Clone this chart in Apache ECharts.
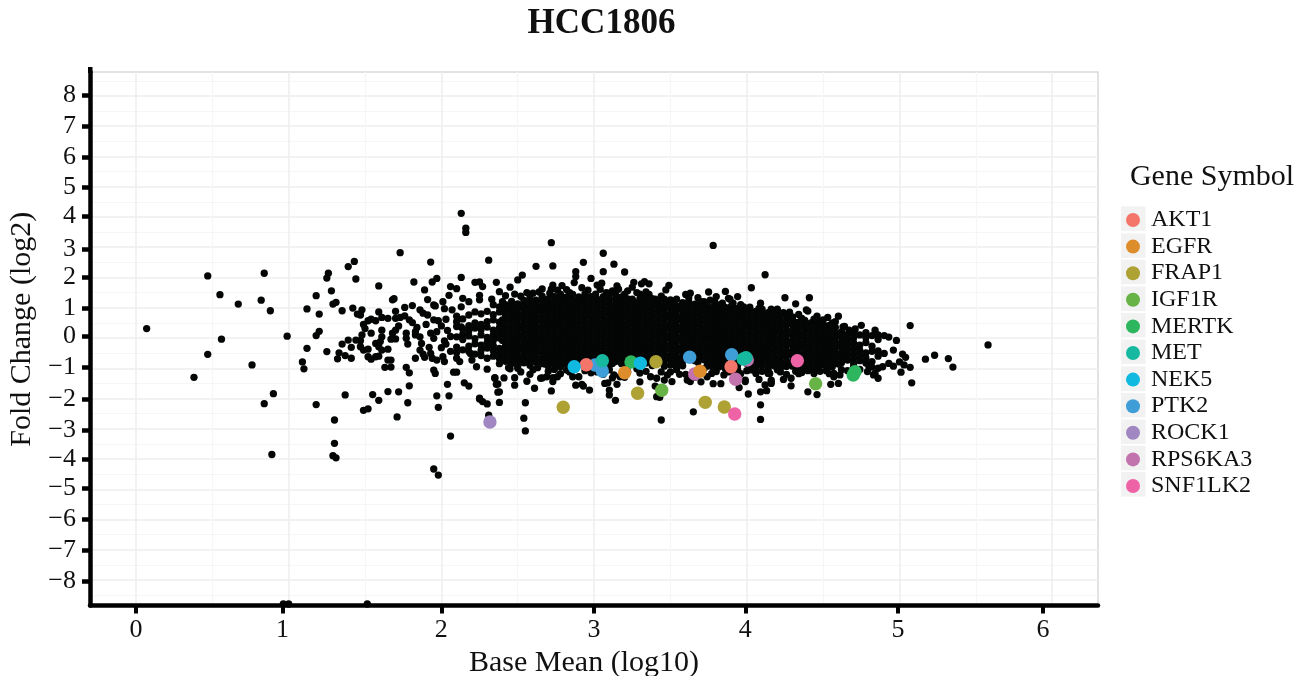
<!DOCTYPE html>
<html><head><meta charset="utf-8">
<style>html,body{margin:0;padding:0;background:#fff}#c{width:1307px;height:676px}</style>
<script src="https://cdn.jsdelivr.net/npm/echarts@6/dist/echarts.min.js"></script>
</head><body><div id="c"></div>
<script>
const chartTitle='HCC1806', xName='Base Mean (log10)', yName='Fold Change (log2)', legendTitle='Gene Symbol';
const xTickLabels=['0','1','2','3','4','5','6'];
const xTickValues=[0,.96,2,3,3.99,4.99,5.94];
const yTickLabels=['8','7','6','5','4','3','2','1','0','\u22121','\u22122','\u22123','\u22124','\u22125','\u22126','\u22127','\u22128'];
const yTickValues=[8.03,7,5.98,4.97,4.01,2.94,2.01,.97,.07,-.98,-2.03,-3.04,-4,-4.96,-6,-7,-8.03];
const xGridMajorValues=[0,1,2,3,4,5,6];
const xGridMinorValues=[.5,1.5,2.5,3.5,4.5,5.5];
const yGridMajorValues=[-8,-7,-6,-5,-4,-3,-2,-1,0,1,2,3,4,5,6,7,8];
const yGridMinorValues=[-8.5,-7.5,-6.5,-5.5,-4.5,-3.5,-2.5,-1.5,-.5,.5,1.5,2.5,3.5,4.5,5.5,6.5,7.5,8.5];
const geneNames=['AKT1','EGFR','FRAP1','IGF1R','MERTK','MET','NEK5','PTK2','ROCK1','RPS6KA3','SNF1LK2'];
const geneColors=['#f4756a','#dd8d2b','#aea234','#67b346','#2eb65f','#16b9a0','#0fb9e0','#3f9ed8','#a087c2','#c272ad','#ee62a6'];
const AKT1=[[2.949,-.883],[3.897,-.949]];
const EGFR=[[3.2,-1.147],[3.694,-1.101]];
const FRAP1=[[3.405,-.783],[3.285,-1.828],[2.798,-2.291],[3.728,-2.126],[3.853,-2.281]];
const IGF1R=[[3.443,-1.729],[4.451,-1.511]];
const MERTK=[[3.242,-.793],[4.709,-1.114],[4.697,-1.223]];
const MET=[[3.054,-.75],[3.995,-.651],[3.977,-.694]];
const NEK5=[[2.87,-.949],[3.303,-.836]];
const PTK2=[[3.006,-.893],[3.054,-1.091],[3.626,-.638],[3.901,-.552]];
const ROCK1=[[2.318,-2.777]];
const RPS6KA3=[[3.659,-1.19],[3.927,-1.365],[4.003,-.727]];
const SNF1LK2=[[3.921,-2.512],[4.331,-.75]];
// flat x,y pairs read one by one
const scatterFarLeft=[.07,.31,.47,2.05,.55,1.43,.67,1.12,.82,1.25,.84,2.14,.88,.9,.56,-.04,.47,-.54,.99,.06,1.12,.96,1.18,1.4,1.2,.79,1.28,1.56,1.25,1.98,1.26,2.14,1.39,2.36,1.43,2.53,1.44,1.95,1.29,1.12,1.31,1.18,1.35,.9,1.18,.08,1.2,.22,1.12,-.34,1.25,-.45,1.59,1.72,1.68,1.26,1.69,1.3,1.73,2.82,.38,-1.3,.76,-.89,1.09,-.79,1.1,-1.02,.84,-2.17,.9,-1.84,1.18,-2.2,1.37,-1.88,1.3,-2.71,1.3,-3.48,.89,-3.85,1.29,-3.89,1.31,-3.96,1.49,-2.39,1.52,-2.34,1.55,-1.87,1.59,-2.06,1.65,-1.77,1.72,-1.78,1.71,-2.61,.965,-8.79,1,-8.79,1.515,-8.79];
const scatterMidLeft=[1.93,2.51,2.13,4.12,2.16,3.63,2.16,3.49,2.31,2.57,1.82,1.85,1.89,1.59,1.94,1.85,1.97,1.97,2.13,2,1.91,1.27,2.06,1.7,2.1,1.63,2.05,1.41,2.01,1.2,2.22,1.84,2.25,1.85,2.27,1.7,2.36,1.84,2.25,1.41,2.14,1.31,2.18,1.2,1.95,1.09,1.96,1.06,2.02,.97,2.07,.93,2.13,1.03,2.25,1.26,2.33,1.28,1.81,1.07,1.76,1.01,1.7,.88,1.59,.86,1.42,.99,1.48,.93,1.45,.79,1.47,.76,1.49,.45,1.52,.57,1.54,.62,1.57,.57,1.61,.68,1.65,.65,1.7,.65,1.73,.68,1.76,.73,1.79,.6,1.81,.51,1.72,.4,1.86,.93,1.88,.82,1.91,.76,1.95,.6,1.98,.57,2.03,.62,1.9,.45,1.84,.35,1.83,.21,2.1,.54,2.11,.62,2.13,.37,1.5,.31,1.54,.16,1.61,.26,1.61,.04,1.6,-.12,1.7,.26,1.68,.16,1.67,-.04,1.7,-.03,1.77,.16,1.77,-.01,1.78,-.2,1.48,.1,1.44,-.07,1.47,-.09,1.39,-.07,1.35,-.2,1.41,-.31,1.47,-.29,1.52,-.37,1.49,-.4,1.57,-.18,1.59,-.29,1.61,-.4,1.65,-.37,1.33,-.49,1.32,-.69,1.37,-.58,1.41,-.67,1.52,-.62,1.54,-.7,1.57,-.62,1.59,-.6,1.65,-.73,1.67,-.73,1.63,-.97,1.67,-.96,1.83,-.67,1.77,-.97,1.79,-1.15,1.79,-1.58,1.87,-.18,1.86,-.4,1.88,-.53,1.89,-.64,1.92,-.31,1.93,-.51,1.94,-.67,1.97,-.73,2.01,-.62,2.02,-.78,1.95,-1.06,1.96,-1.17,2.03,-.2,2.08,-1.13,2.1,-1.13,2.04,-1.53,2.15,-1.48,2.18,-1.59,2.1,-.67,2.12,-.78,2.19,-.51,2.2,-.73,2.23,-.95,2.3,-1.03,2.35,-1.33,2.37,-1.52,1.83,.1,1.86,.04,1.93,.16,1.97,.21,1.95,-.01,1.97,-1.91,2.05,-1.91,2.37,-1.79,2.25,-1.99,2.0,.4,2.04,.25,2.06,.05,2.02,-.1,2.0,-.32,2.06,-.44,1.78,-2.14,1.98,-2.29,2.25,-2.02,2.27,-2.1,2.3,-2.18,2.06,-3.24,1.95,-4.33,1.98,-4.53];
const scatterLower=[2.38,-2.13,2.38,-1.78,2.36,-1.53,2.35,-1.31,2.41,-1.32,2.48,-1.56,2.48,-1.31,2.56,-1.43,2.61,-1.66,2.55,-2.14,2.72,-1.75,2.54,-2.65,2.55,-3.07,2.31,-2.55,2.65,-1.33,2.69,-1.28,2.73,-1.44,2.88,-1.56,2.92,-1.53,2.93,-1.59,2.97,-1.72,3.07,-1.5,3.09,-1.48,3.15,-1.53,3.1,-1.72,3.1,-1.88,3.14,-2.06,3.3,-1.45,3.4,-1.59,3.41,-1.94,3.43,-1.96,3.65,-2.44,3.44,-2.71,3.17,-1.28,3.13,-1.22,3.7,-1.45,3.78,-1.51,3.83,-1.51,3.95,-1.64,3.99,-1.39,3.99,-1.44,4.01,-1.85,4.08,-1.37,4.09,-1.78,4.12,-1.55,4.13,-1.74,4.16,-1.44,4.24,-1.37,4.29,-1.33,4.29,-1.58,4.4,-1.78,4.46,-1.87,4.55,-1.53,4.6,-1.5,4.09,-2.21,4.09,-2.69,4.06,-1.17,2.66,-1.32,2.73,-1.31,2.82,-1.06,2.86,-1.28,2.9,-1.28,3.37,-1.28,3.41,-1.33,3.46,-1.39,3.51,-1.44,3.61,-1.39,3.63,-1.44,3.77,-1.17,3.8,-1.11,3.85,-1.22,4.15,-1.17,4.32,-1.1,4.14,-1.17,4.16,-1.39,4.16,-1.5,4.57,-1.28,4.61,-1.22,4.44,-1.17,4.48,-.89,4.56,-.95,4.57,-1.17,4.79,-1.11,4.83,-1.22,4.86,-1.33,4.84,-1.17,2.45,-1.02,2.52,-1.12,2.6,-1.05,2.7,-1.1,2.78,-1.18,2.98,-1.15,3.06,-1.2,3.22,-1.12,3.3,-1.16,3.5,-1.12,3.56,-1.2,3.92,-1.1,4.0,-1.08,4.22,-1.12,4.36,-1.14,4.52,-1.08,4.66,-1.08,4.74,-1.04];
const scatterUpper=[3.78,3.06,4.12,2.09,4.03,1.66,3.75,1.52,3.86,1.54,3.94,1.37,3.8,1.37,3.89,1.28,4.09,1.15,4.25,1.33,4.32,1.13,4.41,1.33,4.39,.93,4.4,.89,4.21,.84,4.24,.84,4.53,.68,4.6,.72,4.58,.54,4.3,.7,4.32,.51,4.36,.65,4.63,.37,4.67,.26,4.84,.26,4.9,.08,4.93,.03,4.98,-.08,5.07,.41,5.58,-.23,5.23,-.57,5.17,-.7,5.32,-.68,5.35,-.96,5.02,-.53,5.04,-.64,5,-.79,5.03,-.89,5.07,-.97,5.01,-1.13,5.08,-1.48,4.89,-.95,4.93,-.84,4.96,-.93,4.96,-.4,4.9,-.51,2.45,1.68,2.5,1.92,2.53,2.08,2.88,2.19,2.88,2.03,2.87,1.83,2.98,1.97,2.79,1.73,2.73,1.75,2.72,1.61,2.71,1.48,3.06,2.19,3.05,1.81,3.02,1.75,3.04,1.61,3.01,1.45,3.15,1.72,3.1,1.48,2.72,3.15,3.06,2.8,2.73,2.38,2.93,2.5,3.13,2.44,2.62,2.37,3.2,2.18,2.38,1.53,3.33,1.86,3.36,1.79,3.26,1.84,3.25,1.68,3.22,1.56,3.49,1.74,3.47,1.59,3.6,1.44,3.63,1.48,3.68,1.33,3.31,1.79,3.16,1.61,3.3,1.45,3.36,1.44,3.4,1.28,3.25,1.28,3.5,1.26,3.52,1.2,4.05,.7,4.12,.6,3.99,.93,3.58,1.17,3.72,1.2,3.79,1.2,3.88,1.31,3.91,1.15,2.42,1.4,2.56,1.5,2.66,1.62,2.82,1.6,2.92,1.66,4.16,.95,4.02,1.02,4.46,.72,4.71,.3,4.75,.42];
const scatterFringe=[2.44,-.98,2.5,-1,2.58,-1.2,2.63,-.98,2.74,-1.04,2.76,-1.28,2.84,-1.12,2.94,-1.08,3.02,-1.12,3.1,-1.05,3.12,-1.32,3.2,-1.3,3.28,-1.02,3.34,-1.1,3.44,-1.12,3.48,-1.22,3.54,-1.05,3.6,-1.2,3.66,-1.3,3.72,-1.02,3.74,-1.28,3.88,-1.12,3.96,-1.18,4.04,-1.06,4.1,-1.1,4.2,-1.05,4.26,-1.2,4.34,-1.18,4.4,-1.08,4.48,-1.1,4.54,-1.18,4.62,-1.05,4.7,-.95,4.8,-.95,2.4,1.2,2.48,1.45,2.52,1.38,2.6,1.48,2.64,1.52,2.76,1.58,2.84,1.5,2.96,1.58,3.08,1.5,3.12,1.56,3.2,1.45,3.28,1.5,3.34,1.52,3.44,1.38,3.54,1.28,3.62,1.32,3.7,1.2,3.76,1.25,3.84,1.15,3.96,1.1,4.08,.98,4.2,.95,4.28,.85,4.34,.78,4.44,.62,4.5,.6,4.56,.5,4.64,.38,4.7,.2,4.78,.18,4.86,.1];
// x followed by the estimated fold changes of the dense central mass
const coreColumns=[
[2.10,.72,.38,.04,-.3,-.48],
[2.14,.63,.3,.12,-.05,-.39],
[2.18,.76,.41,.24,.07,-.27,-.45],
[2.22,.86,.5,.33,-.02,-.19,-.53],
[2.26,.8,.45,.28,.1,-.24,-.41,-.58],
[2.30,.88,.54,.36,.02,-.15,-.33,-.67],
[2.34,1.1,.77,.6,.26,.09,-.08,-.25,-.42,-.6],
[2.38,1.03,.86,.52,.34,.17,0,-.34,-.51,-.68,-.85],
[2.42,1.1,.93,.76,.59,.42,.25,.08,-.09,-.26,-.43,-.6,-.77],
[2.46,1.21,1.04,.87,.7,.53,.35,.18,.01,-.16,-.33,-.5,-.67,-.84],
[2.50,1.13,.96,.79,.62,.45,.27,.1,-.07,-.24,-.42,-.59,-.76,-.92],
[2.54,1.24,1.07,.9,.73,.56,.38,.21,.04,-.13,-.3,-.47,-.64,-.82],
[2.58,1.33,1.16,.99,.82,.64,.47,.3,.13,-.04,-.21,-.38,-.55,-.73,-.9],
[2.62,1.25,1.08,.91,.74,.57,.4,.23,.06,-.11,-.28,-.46,-.63,-.8],
[2.66,1.38,1.21,1.04,.87,.7,.53,.36,.18,.01,-.16,-.33,-.5,-.67,-.85],
[2.70,1.29,1.12,.95,.78,.61,.44,.27,.09,-.08,-.25,-.42,-.59,-.76,-.93],
[2.74,1.37,1.2,1.03,.86,.69,.52,.35,.18,.01,-.16,-.33,-.5,-.68,-.85],
[2.78,1.45,1.28,1.11,.94,.77,.6,.42,.25,.08,-.09,-.26,-.43,-.6,-.77,-.95],
[2.82,1.36,1.19,1.02,.85,.68,.51,.34,.17,0,-.17,-.34,-.51,-.69,-.86],
[2.86,1.44,1.27,1.1,.93,.76,.59,.42,.25,.08,-.09,-.26,-.43,-.6,-.77],
[2.90,1.36,1.19,1.02,.85,.68,.5,.33,.16,-.01,-.18,-.35,-.52,-.69,-.86],
[2.94,1.45,1.28,1.11,.94,.77,.6,.43,.26,.09,-.08,-.25,-.42,-.59,-.76,-.93],
[2.98,1.37,1.2,1.03,.86,.69,.51,.34,.17,0,-.17,-.34,-.51,-.68,-.85],
[3.02,1.28,1.11,.94,.77,.6,.43,.26,.09,-.08,-.25,-.42,-.59,-.76],
[3.06,1.37,1.2,1.03,.86,.69,.52,.35,.18,.01,-.16,-.33,-.5,-.67,-.84],
[3.10,1.3,1.13,.96,.79,.62,.45,.28,.11,-.06,-.23,-.4,-.57,-.74,-.91],
[3.14,1.43,1.26,1.09,.92,.75,.58,.41,.24,.07,-.1,-.27,-.44,-.61,-.78],
[3.18,1.36,1.19,1.02,.85,.68,.51,.34,.17,0,-.17,-.34,-.51,-.68,-.85],
[3.22,1.29,1.12,.95,.78,.61,.44,.27,.1,-.07,-.24,-.41,-.58,-.75,-.92],
[3.26,1.2,1.03,.86,.69,.52,.35,.18,.01,-.16,-.33,-.5,-.67],
[3.30,1.29,1.12,.95,.78,.61,.44,.27,.1,-.07,-.24,-.41,-.58,-.72],
[3.34,1.38,1.21,1.04,.87,.7,.53,.36,.19,.02,-.15,-.32,-.49,-.66,-.83],
[3.38,1.3,1.13,.96,.79,.62,.45,.28,.11,-.06,-.23,-.4,-.57,-.74,-.91],
[3.42,1.21,1.04,.87,.7,.53,.36,.19,.02,-.15,-.32,-.49,-.66],
[3.46,1.28,1.11,.94,.77,.6,.43,.26,.09,-.08,-.25,-.42,-.59,-.76,-.93],
[3.50,1.15,.98,.81,.64,.47,.3,.13,-.04,-.21,-.38,-.55,-.72,-.89],
[3.54,1.06,.89,.72,.55,.38,.21,.04,-.13,-.3,-.47,-.64,-.81,-.95],
[3.58,1.1,.93,.76,.59,.42,.25,.08,-.09,-.26,-.43,-.6,-.77,-.92],
[3.62,1.19,1.02,.85,.68,.51,.34,.17,0,-.17,-.34,-.51],
[3.66,1.12,.95,.78,.61,.44,.27,.1,-.07,-.24,-.41,-.58,-.75],
[3.70,1.04,.87,.7,.53,.36,.19,.02,-.15,-.32,-.49,-.66],
[3.74,1.11,.94,.77,.6,.43,.26,.09,-.08,-.25,-.42,-.59,-.76,-.93],
[3.78,1.03,.86,.69,.52,.35,.18,.01,-.16,-.33,-.5,-.67,-.84,-1.0],
[3.82,1.09,.92,.75,.58,.41,.24,.07,-.1,-.27,-.44,-.61,-.78,-.95],
[3.86,1.01,.84,.67,.5,.33,.16,-.01,-.18,-.35,-.52,-.69,-.86,-1.02],
[3.90,1.06,.89,.72,.55,.38,.21,.04,-.13,-.3,-.47],
[3.94,.98,.81,.64,.47,.3,.13,-.04,-.21,-.38,-.55,-.72,-.89,-1.04],
[3.98,1.03,.86,.69,.52,.35,.18,.01,-.16,-.33,-.5],
[4.02,.95,.78,.61,.44,.27,.1,-.07,-.24,-.41,-.58,-.75,-.92,-1.05],
[4.06,.88,.71,.54,.37,.2,.03,-.14,-.31,-.48,-.65,-.82,-.99],
[4.10,.95,.78,.61,.44,.27,.1,-.07,-.24,-.41,-.58,-.75,-.92],
[4.14,.84,.67,.5,.33,.16,-.01,-.18,-.35,-.52,-.69,-.86,-1.03],
[4.18,.78,.61,.44,.27,.1,-.07,-.24,-.41,-.58,-.75,-.92],
[4.22,.7,.53,.36,.19,.02,-.15,-.32,-.49,-.66,-.83,-1.0],
[4.26,.76,.59,.42,.25,.08,-.09,-.26,-.43,-.6,-.77,-.94],
[4.30,.6,.43,.26,.09,-.08,-.25,-.42,-.59,-.76,-.93],
[4.34,.52,.35,.18,.01,-.16,-.33,-.5,-.67,-.84,-1.0],
[4.38,.58,.41,.24,.07,-.1,-.27,-.44,-.61,-.78,-.95],
[4.42,.5,.33,.16,-.01,-.18,-.35,-.52,-.69,-.86,-1.02],
[4.46,.55,.38,.21,.04,-.13,-.3,-.47,-.64,-.81,-.98],
[4.50,.47,.3,.13,-.04,-.21,-.38,-.55,-.72,-.89],
[4.54,.42,.25,.08,-.09,-.26,-.43,-.6,-.77,-.94],
[4.58,.35,.18,.01,-.16,-.33,-.5,-.67,-.84],
[4.62,.2,.03,-.14,-.31,-.48,-.65,-.82],
[4.66,.12,-.05,-.22,-.39,-.56,-.73],
[4.70,.18,.01,-.16,-.33,-.5,-.67,-.84],
[4.74,.1,-.24,-.41,-.58,-.75],
[4.78,.02,-.15,-.49,-.66,-.83],
[4.82,.08,-.27,-.44,-.78,-.96],
[4.86,-.05,-.43,-.6,-1.0]
];
// second pass over the gaps of the dense mass
const coreGapColumns=[
[2.40,.95,.6,.27,-.08,-.42],[2.44,1.02,.66,.32,-.02,-.36,-.7],
[2.48,.9,.55,.22,-.12,-.46,-.8],[2.52,1.05,.7,.36,.02,-.32,-.66],[2.56,.92,.6,.24,-.1,-.44,-.78],[2.60,1.08,.74,.4,.05,-.3,-.62],
[2.64,.97,.63,.28,-.06,-.4,-.74],[2.68,1.13,.8,.45,.1,-.24,-.58,-.86],[2.72,1.02,.68,.34,0,-.34,-.68],[2.76,1.2,.86,.52,.17,-.16,-.5,-.84],
[2.80,1.08,.74,.4,.06,-.28,-.62],[2.84,1.22,.88,.54,.2,-.14,-.48,-.82],[2.88,1.1,.76,.42,.08,-.26,-.6],[2.92,1.26,.92,.58,.24,-.1,-.44,-.78],
[2.96,1.12,.78,.44,.1,-.24,-.58],[3.00,1.24,.9,.56,.22,-.12,-.46,-.8],[3.04,1.1,.76,.42,.08,-.26,-.6],[3.08,1.22,.88,.54,.2,-.14,-.48],
[3.12,1.08,.74,.4,.06,-.28,-.62,-.84],[3.16,1.2,.86,.52,.18,-.16,-.5],[3.20,1.05,.71,.37,.03,-.31,-.65],[3.24,1.16,.82,.48,.14,-.2,-.54],
[3.28,1.04,.7,.36,.02,-.32,-.64],[3.32,1.16,.82,.48,.14,-.2,-.54],[3.36,1.05,.71,.37,.03,-.31,-.65],[3.40,1.1,.76,.42,.08,-.26,-.58],
[3.44,1.0,.66,.32,-.02,-.36,-.68],[3.48,1.06,.72,.38,.04,-.3,-.64],[3.52,.95,.61,.27,-.07,-.41,-.75],[3.56,1.0,.66,.32,-.02,-.36,-.7],
[3.60,.9,.56,.22,-.12,-.44],[3.64,.98,.64,.3,-.04,-.38],[3.68,.88,.54,.2,-.14,-.48,-.8],[3.72,.96,.62,.28,-.06,-.4,-.72],
[3.76,.86,.52,.18,-.16,-.5,-.84],[3.80,.92,.58,.24,-.1,-.44,-.78],[3.84,.82,.48,.14,-.2,-.54,-.88],[3.88,.88,.54,.2,-.14,-.42],
[3.92,.78,.44,.1,-.24,-.44,-.78],[3.96,.84,.5,.16,-.18,-.4],[4.00,.76,.42,.08,-.26,-.42,-.84],[4.04,.7,.36,.02,-.32,-.66],
[4.08,.74,.4,.06,-.28,-.62,-.86],[4.12,.64,.3,-.04,-.38,-.72],[4.16,.58,.24,-.1,-.44,-.78],[4.20,.6,.26,-.08,-.42,-.76],
[4.24,.5,.16,-.18,-.52,-.86],[4.28,.52,.18,-.16,-.5,-.84],[4.32,.4,.06,-.28,-.62,-.9],[4.36,.44,.1,-.24,-.58,-.88],
[4.40,.36,.02,-.32,-.66],[4.44,.38,.04,-.3,-.64,-.92],[4.48,.3,-.04,-.38,-.72],[4.52,.26,-.08,-.42,-.76],[4.56,.2,-.14,-.48,-.82],[4.60,.1,-.24,-.58,-.86]
];
const legendCenters=[218.7,245.7,272,298.7,325.3,351.7,378.7,405.3,431.7,458,484.3];

const pairs=f=>{const o=[];for(let i=0;i<f.length;i+=2)o.push([f[i],f[i+1]]);return o;};
const unpack=cols=>cols.flatMap(c=>c.slice(1).map(y=>[c[0],y]));
const backgroundData=[...pairs(scatterFarLeft),...pairs(scatterMidLeft),...pairs(scatterLower),...pairs(scatterUpper),...pairs(scatterFringe),...unpack(coreColumns),...unpack(coreGapColumns)];
const geneData={AKT1,EGFR,FRAP1,IGF1R,MERTK,MET,NEK5,PTK2,ROCK1,RPS6KA3,SNF1LK2};
const drawOrder=['RPS6KA3','PTK2','AKT1','MERTK','NEK5','FRAP1','EGFR','IGF1R','MET','SNF1LK2','ROCK1'];
const FONT='Liberation Serif', INK='#111';
const XMIN=-.301,XMAX=6.3,YMIN=-8.84,YMAX=8.79;
const gridAxis=(min,max,values,color,width)=>({type:'value',min,max,silent:true,
  axisLine:{show:false},axisTick:{show:false,customValues:values},axisLabel:{show:false,customValues:values},
  splitLine:{show:true,lineStyle:{color,width}}});
const xGridMinor={...gridAxis(XMIN,XMAX,xGridMinorValues,'#f6f6f6',1.2),position:'bottom'};
const xGridMajor={...gridAxis(XMIN,XMAX,xGridMajorValues,'#eeeeee',1.5),position:'bottom'};
const yGridMinor={...gridAxis(YMIN,YMAX,yGridMinorValues,'#f6f6f6',1.2),position:'left'};
const yGridMajor={...gridAxis(YMIN,YMAX,yGridMajorValues,'#eeeeee',1.5),position:'left'};
const xAxisVisible={type:'value',min:XMIN,max:XMAX,position:'bottom',z:6,silent:true,
  name:xName,nameLocation:'middle',nameGap:35.5,nameTextStyle:{fontFamily:FONT,fontSize:30,color:INK,padding:[0,20,0,0]},
  axisLine:{show:true,onZero:false,lineStyle:{color:'#000',width:4.5}},
  axisTick:{show:true,length:8,customValues:xTickValues,lineStyle:{color:'#000',width:4}},
  axisLabel:{show:true,customValues:xTickValues,margin:11.5,fontFamily:FONT,fontSize:26,color:INK,
    formatter:v=>xTickLabels[xTickValues.indexOf(v)]??''},
  splitLine:{show:false}};
const yAxisVisible={type:'value',min:YMIN,max:YMAX,position:'left',z:6,silent:true,
  name:yName,nameLocation:'middle',nameGap:46,nameTextStyle:{fontFamily:FONT,fontSize:30,color:INK,padding:[0,0,0,19]},
  axisLine:{show:true,onZero:false,lineStyle:{color:'#000',width:4.5}},
  axisTick:{show:true,length:8,customValues:yTickValues,lineStyle:{color:'#000',width:4.5}},
  axisLabel:{show:true,customValues:yTickValues,margin:14,fontFamily:FONT,fontSize:26,color:INK,
    formatter:v=>yTickLabels[yTickValues.indexOf(v)]??''},
  splitLine:{show:false}};
const chart=echarts.init(document.getElementById('c'),null,{renderer:'canvas'});
chart.setOption({
  animation:false,backgroundColor:'#fff',
  title:[
    {text:chartTitle,left:596.5,top:1.5,textAlign:'center',textStyle:{fontFamily:FONT,fontSize:35,fontWeight:'bold',color:'#111'}},
    {text:legendTitle,left:1207,top:157,textAlign:'center',textStyle:{fontFamily:FONT,fontSize:30,fontWeight:'normal',color:INK}}
  ],
  grid:{left:90,top:72,width:1008,height:533.5,show:true,borderColor:'#d9d9d9',borderWidth:1.5,backgroundColor:'#fff',outerBoundsMode:'none',containLabel:false},
  xAxis:[xGridMinor,xGridMajor,xAxisVisible],
  yAxis:[yGridMinor,yGridMajor,yAxisVisible],
  legend:{data:geneNames,orient:'vertical',left:1121,top:201.7,icon:'circle',itemWidth:14,itemHeight:14,itemGap:0,selectedMode:false,z:5,
    textStyle:{fontFamily:FONT,fontSize:24,color:INK,padding:[0,0,0,6],lineHeight:26.6,height:26.6}},
  graphic:{elements:[
    {type:'rect',shape:{x:88,y:67,width:4.5,height:6},style:{fill:'#000'},z:10,silent:true},
    ...legendCenters.map(c=>({type:'rect',shape:{x:1121,y:c-12.3,width:24.6,height:24.6},style:{fill:'#f2f2f2'},z:1,silent:true}))
  ]},
  series:[
    {type:'scatter',name:'background',data:backgroundData,symbolSize:7.3,itemStyle:{color:'#040606',opacity:1},z:2,xAxisIndex:0,yAxisIndex:0},
    ...drawOrder.map(n=>({type:'scatter',name:n,data:geneData[n],symbolSize:13.4,
      itemStyle:{color:geneColors[geneNames.indexOf(n)],opacity:1},z:3,xAxisIndex:0,yAxisIndex:0}))
  ]
});
</script></body></html>
